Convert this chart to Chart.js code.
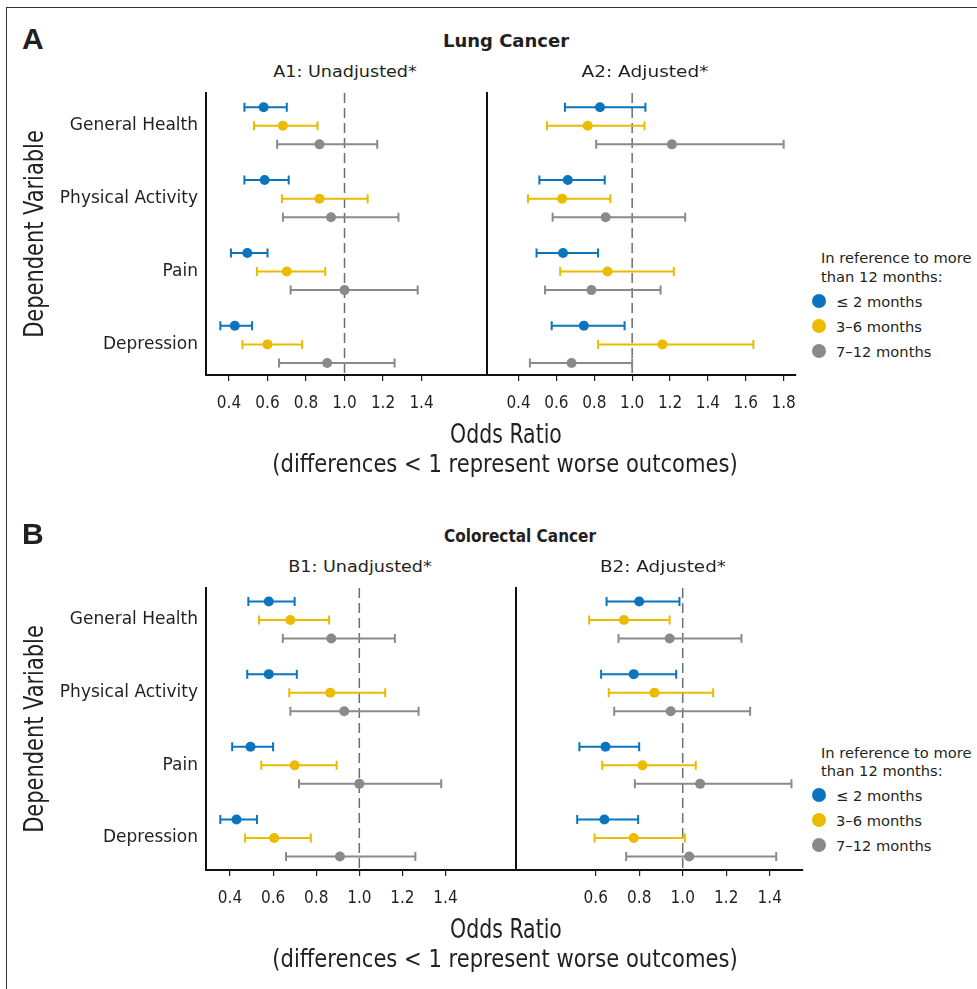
<!DOCTYPE html>
<html>
<head>
<meta charset="utf-8">
<script src="https://cdn.jsdelivr.net/npm/chart.js@4.4.1/dist/chart.umd.min.js"></script>
<style>
  body { margin: 0; width: 977px; height: 989px; position: relative; overflow: hidden; background: #fff; color: #231f20; }
  .frame { position: absolute; left: 6px; top: 7px; width: 990px; height: 1000px; border-left: 1.5px solid #333; border-top: 1.5px solid #333; }
  .lbl { position: absolute; white-space: nowrap; line-height: 1; }
  canvas { position: absolute; }
</style>
</head>
<body>
<div class="frame"></div>
<script>
const categories = ['General Health', 'Physical Activity', 'Pain', 'Depression'];
const groups = ['≤ 2 months', '3–6 months', '7–12 months'];
const colors = ['#0a74bd', '#ebbb00', '#8a8a8a'];
const offsets = [-0.255, 0, 0.255];

// [odds ratio, lower CI, upper CI] per category
const a1Le2   = [[0.58, 0.48, 0.70], [0.585, 0.48, 0.71], [0.495, 0.41, 0.60], [0.43, 0.355, 0.52]];
const a1M3to6 = [[0.68, 0.53, 0.86], [0.87, 0.675, 1.12], [0.70, 0.545, 0.90], [0.60, 0.47, 0.78]];
const a1M7to12 = [[0.87, 0.65, 1.17], [0.93, 0.68, 1.28], [1.00, 0.72, 1.38], [0.91, 0.66, 1.26]];

const a2Le2   = [[0.83, 0.645, 1.07], [0.66, 0.51, 0.855], [0.635, 0.495, 0.82], [0.745, 0.575, 0.96]];
const a2M3to6 = [[0.765, 0.55, 1.065], [0.63, 0.45, 0.885], [0.87, 0.62, 1.22], [1.16, 0.82, 1.64]];
const a2M7to12 = [[1.21, 0.81, 1.80], [0.86, 0.58, 1.28], [0.785, 0.54, 1.15], [0.68, 0.46, 1.00]];

const b1Le2   = [[0.58, 0.485, 0.70], [0.58, 0.48, 0.71], [0.495, 0.41, 0.60], [0.43, 0.355, 0.525]];
const b1M3to6 = [[0.68, 0.535, 0.86], [0.865, 0.675, 1.12], [0.70, 0.545, 0.895], [0.605, 0.47, 0.775]];
const b1M7to12 = [[0.87, 0.645, 1.165], [0.93, 0.68, 1.275], [1.00, 0.72, 1.38], [0.91, 0.66, 1.26]];

const b2Le2   = [[0.80, 0.65, 0.985], [0.775, 0.625, 0.97], [0.645, 0.525, 0.80], [0.64, 0.515, 0.795]];
const b2M3to6 = [[0.73, 0.57, 0.94], [0.87, 0.66, 1.14], [0.815, 0.63, 1.06], [0.775, 0.595, 1.01]];
const b2M7to12 = [[0.94, 0.705, 1.27], [0.945, 0.685, 1.31], [1.08, 0.78, 1.50], [1.03, 0.74, 1.43]];

const ticksA1 = [0.4, 0.6, 0.8, 1.0, 1.2, 1.4];
const ticksA2 = [0.4, 0.6, 0.8, 1.0, 1.2, 1.4, 1.6, 1.8];
const ticksB1 = [0.4, 0.6, 0.8, 1.0, 1.2, 1.4];
const ticksB2 = [0.6, 0.8, 1.0, 1.2, 1.4];

const NARROW = "'Liberation Sans Narrow', 'DejaVu Sans Condensed', sans-serif";
const INK = '#231f20';

// dashed line at OR = 1 and the CI whiskers, drawn under the points
const forestLines = {
  id: 'forestLines',
  beforeDatasetsDraw(chart) {
    const { ctx, chartArea, scales: { x, y } } = chart;
    ctx.save();
    const x1 = x.getPixelForValue(1);
    ctx.strokeStyle = '#6e6e6e';
    ctx.lineWidth = 1.5;
    ctx.setLineDash([10, 5]);
    ctx.beginPath();
    ctx.moveTo(x1, chartArea.top);
    ctx.lineTo(x1, chartArea.bottom);
    ctx.stroke();
    ctx.setLineDash([]);
    chart.data.datasets.forEach(ds => {
      ctx.strokeStyle = ds.backgroundColor;
      ctx.lineWidth = 2;
      ds.data.forEach(p => {
        const yp = y.getPixelForValue(p.y);
        const a = x.getPixelForValue(p.lo);
        const b = x.getPixelForValue(p.hi);
        ctx.beginPath();
        ctx.moveTo(a, yp); ctx.lineTo(b, yp);
        ctx.moveTo(a, yp - 4.5); ctx.lineTo(a, yp + 4.5);
        ctx.moveTo(b, yp - 4.5); ctx.lineTo(b, yp + 4.5);
        ctx.stroke();
      });
    });
    ctx.restore();
  }
};

function makeSets(rows) {
  return rows.map((vals, g) => ({
    label: groups[g],
    backgroundColor: colors[g],
    pointBackgroundColor: colors[g],
    pointRadius: 5,
    pointHoverRadius: 5,
    pointBorderWidth: 0,
    data: vals.map((v, i) => ({ x: v[0], lo: v[1], hi: v[2], y: i + offsets[g] }))
  }));
}

function forestChart(box, rows, xRange, tickVals, yRange, yWidth, showCats) {
  const canvas = document.createElement('canvas');
  canvas.width = box.w;
  canvas.height = box.h;
  canvas.style.left = box.x + 'px';
  canvas.style.top = box.y + 'px';
  document.body.appendChild(canvas);

  return new Chart(canvas, {
    type: 'scatter',
    data: { datasets: makeSets(rows) },
    options: {
      responsive: false,
      animation: false,
      layout: { padding: { top: 8, right: 5, left: 0, bottom: 0 } },
      plugins: { legend: { display: false }, tooltip: { enabled: false } },
      scales: {
        x: {
          type: 'linear',
          min: xRange[0],
          max: xRange[1],
          afterBuildTicks: s => { s.ticks = tickVals.map(v => ({ value: v })); },
          afterFit: s => { s.height = 50; },
          grid: { drawOnChartArea: false, drawTicks: true, tickLength: 6, color: INK, lineWidth: 1.2 },
          border: { color: '#111', width: 2 },
          ticks: {
            padding: 12,
            color: INK,
            maxRotation: 0,
            autoSkip: false,
            font: { family: NARROW, size: 17 },
            callback: v => v.toFixed(1)
          }
        },
        y: {
          type: 'linear',
          reverse: true,
          min: yRange[0],
          max: yRange[1],
          afterBuildTicks: s => { s.ticks = categories.map((_, i) => ({ value: i })); },
          afterFit: s => {
            s.width = yWidth;
            // labels sit well inside the range, so no extra room is needed above/below
            s.paddingTop = 0;
            s.paddingBottom = 0;
          },
          grid: { display: false, drawTicks: false },
          border: { color: '#111', width: 2 },
          ticks: {
            display: showCats,
            padding: 8,
            color: INK,
            font: { family: "'DejaVu Sans', sans-serif", size: 17 },
            callback: v => categories[v]
          }
        }
      }
    },
    plugins: [forestLines]
  });
}

forestChart({ x: 0, y: 85, w: 492, h: 340 }, [a1Le2, a1M3to6, a1M7to12], [0.2805, 1.740], ticksA1, [-0.45, 3.42], 206, true);
forestChart({ x: 477, y: 85, w: 331, h: 340 }, [a2Le2, a2M3to6, a2M7to12], [0.2334, 1.863], ticksA2, [-0.45, 3.42], 10, false);
forestChart({ x: 0, y: 580, w: 521, h: 340 }, [b1Le2, b1M3to6, b1M7to12], [0.2886, 1.727], ticksB1, [-0.44, 3.44], 206, true);
forestChart({ x: 506, y: 580, w: 302, h: 340 }, [b2Le2, b2M3to6, b2M7to12], [0.2336, 1.553], ticksB2, [-0.44, 3.44], 10, false);

// text placed by centre (or left edge), stretched to the measured width when given
function label(text, x, y, font, opts = {}) {
  const el = document.createElement('div');
  el.className = 'lbl';
  el.textContent = text;
  el.style.font = font;
  el.style.left = x + 'px';
  el.style.top = y + 'px';
  document.body.appendChild(el);
  const sx = opts.width ? opts.width / el.offsetWidth : 1;
  const shift = opts.left ? 'translate(0,-50%)' : 'translate(-50%,-50%)';
  el.style.transformOrigin = opts.left ? 'left center' : 'center center';
  el.style.transform = `${shift} ${opts.rotate ? 'rotate(-90deg) ' : ''}scaleX(${sx})`;
  return el;
}

function legend(top) {
  label('In reference to more', 821, top, "14.7px 'DejaVu Sans'", { left: true });
  label('than 12 months:', 821, top + 18.5, "14.7px 'DejaVu Sans'", { left: true });
  groups.forEach((g, i) => {
    const cy = top + 43.5 + i * 25;
    const dot = document.createElement('div');
    Object.assign(dot.style, {
      position: 'absolute', left: '812px', top: (cy - 7) + 'px', width: '14px', height: '14px',
      borderRadius: '50%', background: colors[i]
    });
    document.body.appendChild(dot);
    label(g, 836, cy, "14.7px 'DejaVu Sans'", { left: true });
  });
}

function panelText(dy, letter, title, titleX, titleW, sub1, sub1X, sub2, sub2X, sub2W) {
  label(letter, 22, 39 + dy, "bold 30px 'Liberation Sans'", { left: true });
  label(title, titleX, 40 + dy, "bold 18px 'DejaVu Sans'", { width: titleW });
  label(sub1, sub1X, 71 + dy, "16.5px 'DejaVu Sans'", { width: 144 });
  label(sub2, sub2X, 71 + dy, "16.5px 'DejaVu Sans'", { width: sub2W });
  label('Dependent Variable', 34, 234 + dy, `26px ${NARROW}`, { width: 208, rotate: true });
  label('Odds Ratio', 506, 434 + dy, `26px ${NARROW}`, { width: 112 });
  label('(differences < 1 represent worse outcomes)', 505, 463 + dy, `25px ${NARROW}`, { width: 465 });
}

panelText(0, 'A', 'Lung Cancer', 506, 126, 'A1: Unadjusted*', 345, 'A2: Adjusted*', 645, 127);
panelText(495, 'B', 'Colorectal Cancer', 520, 152, 'B1: Unadjusted*', 360, 'B2: Adjusted*', 663, 126);
legend(257);
legend(751.5);
</script>
</body>
</html>
